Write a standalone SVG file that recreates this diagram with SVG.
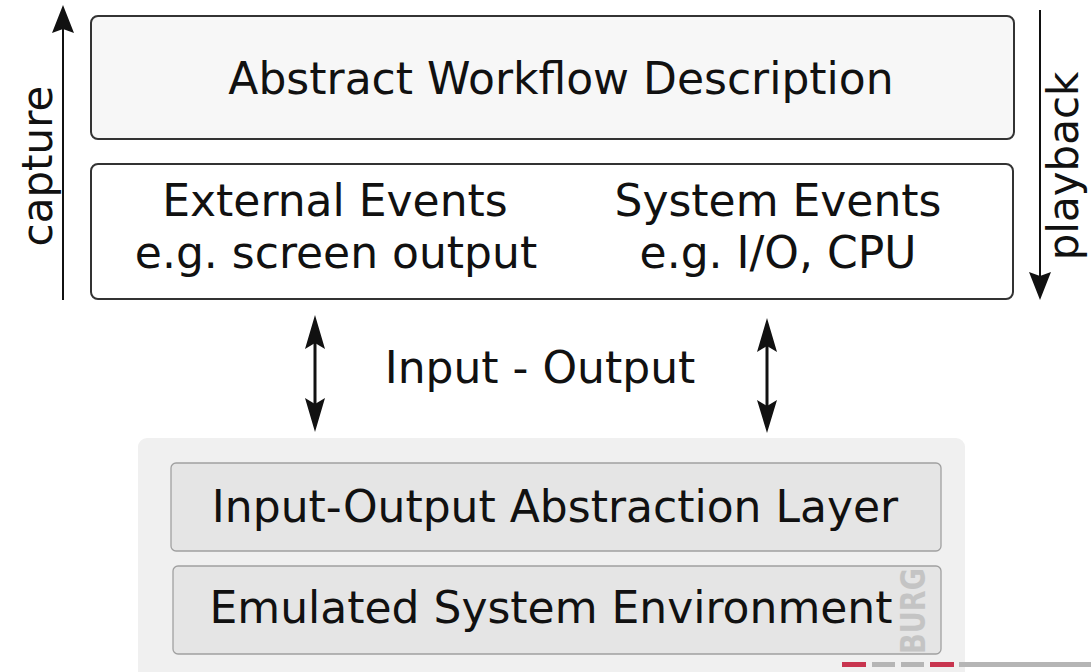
<svg xmlns="http://www.w3.org/2000/svg" width="1091" height="672" viewBox="0 0 1091 672">
  <style>
    text { font-family: "DejaVu Sans", "Liberation Sans", sans-serif; fill: #111; }
    .lbl { font-size: 44px; text-anchor: middle; }
    .side { font-size: 42px; text-anchor: middle; }
    .box-top { fill: #f7f7f7; stroke: #333; stroke-width: 2; }
    .box-ev { fill: #ffffff; stroke: #333; stroke-width: 2; }
    .panel { fill: #f0f0f0; }
    .layer { fill: #e5e5e5; stroke: #a0a0a0; stroke-width: 1.3; }
    .shaft { stroke: #111; stroke-width: 2; fill: none; }
    .shaft-bold { stroke: #111; stroke-width: 3; fill: none; }
    .head { fill: #111; }
    .mark { font-family: "DejaVu Sans", sans-serif; font-weight: bold; fill: #c4c4c4; font-size: 34px; }
  </style>

  <!-- top section -->
  <g id="abstract-workflow">
    <rect class="box-top" x="91" y="16" width="923" height="123" rx="7"/>
    <text class="lbl" x="561" y="94">Abstract Workflow Description</text>
  </g>

  <g id="events">
    <rect class="box-ev" x="91" y="164" width="922" height="135" rx="7"/>
    <text class="lbl" x="335" y="216">External Events</text>
    <text class="lbl" x="336" y="268">e.g. screen output</text>
    <text class="lbl" x="778" y="216">System Events</text>
    <text class="lbl" x="778" y="268">e.g. I/O, CPU</text>
  </g>

  <!-- side labels -->
  <g id="capture-label">
    <text class="side" transform="translate(52,166) rotate(-90)">capture</text>
  </g>
  <g id="playback-label">
    <text class="side" transform="translate(1078,166) rotate(-90)">playback</text>
  </g>

  <g id="io-label">
    <text class="lbl" x="540" y="383">Input - Output</text>
  </g>

  <!-- lower section -->
  <g id="emulation-stack">
    <rect class="panel" x="138" y="438" width="827" height="250" rx="9"/>
  </g>
  <g id="io-abstraction-layer">
    <rect class="layer" x="171" y="463" width="770" height="88" rx="5"/>
    <text class="lbl" x="555" y="522">Input-Output Abstraction Layer</text>
  </g>
  <g id="emulated-environment">
    <rect class="layer" x="173" y="566" width="768" height="88" rx="5"/>
    <text class="lbl" x="551" y="623">Emulated System Environment</text>
  </g>

  <!-- connectors -->
  <g id="connectors">
    <!-- capture: upward -->
    <line class="shaft" x1="63" y1="300" x2="63" y2="28"/>
    <path class="head" d="M63,5 L74,33 L63,29 L52,33 Z"/>
    <!-- playback: downward -->
    <line class="shaft" x1="1040" y1="10" x2="1040" y2="278"/>
    <path class="head" d="M1040,300 L1051,272 L1040,276 L1029,272 Z"/>
    <!-- input/output, left -->
    <line class="shaft-bold" x1="315" y1="340" x2="315" y2="408"/>
    <path class="head" d="M315,315 L325,349 L315,343 L305,349 Z"/>
    <path class="head" d="M315,432 L325,398 L315,404 L305,398 Z"/>
    <!-- input/output, right -->
    <line class="shaft-bold" x1="767" y1="343" x2="767" y2="409"/>
    <path class="head" d="M767,318 L777,352 L767,346 L757,352 Z"/>
    <path class="head" d="M767,433 L777,400 L767,406 L757,400 Z"/>
  </g>

  <!-- logo fragment at the bottom right -->
  <g id="logo">
    <text class="mark" transform="translate(925,654) rotate(-90)" textLength="86" lengthAdjust="spacingAndGlyphs">BURG</text>
    <rect x="842" y="662" width="24" height="5" fill="#c8354f"/>
    <rect x="872" y="662" width="23" height="5" fill="#b5b5b5"/>
    <rect x="901" y="662" width="23" height="5" fill="#b5b5b5"/>
    <rect x="930" y="662" width="24" height="5" fill="#c8354f"/>
    <rect x="959" y="662" width="132" height="5" fill="#b5b5b5"/>
  </g>
</svg>
